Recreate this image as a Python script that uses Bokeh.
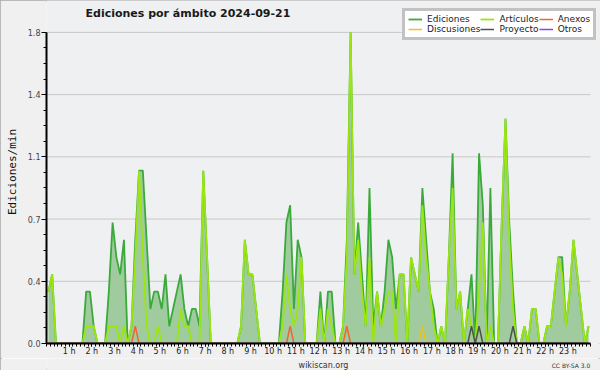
from bokeh.plotting import figure
from bokeh.layouts import column
from bokeh.models import (ColumnDataSource, Range1d, FixedTicker, Legend, LegendItem,
                          Label, PrintfTickFormatter)
from bokeh.embed import file_html
from bokeh.resources import INLINE

# ---- data: edits per minute, 10-minute bins over 2024-09-21 ----
ediciones = [0.3, 0.4, 0, 0, 0, 0, 0, 0, 0, 0, 0.3, 0.3, 0.1, 0, 0, 0, 0.3, 0.7, 0.5, 0.4,
             0.6, 0, 0.1, 0.6, 1.0, 1.0, 0.6, 0.2, 0.3, 0.3, 0.2, 0.4, 0.1, 0.2, 0.3, 0.4, 0.2, 0.1, 0.2, 0.2,
             0.1, 1.0, 0.5, 0, 0, 0, 0, 0, 0, 0, 0, 0.1, 0.6, 0.4, 0.4, 0.2, 0, 0, 0, 0,
             0, 0, 0.3, 0.7, 0.8, 0.2, 0.6, 0.5, 0, 0, 0, 0, 0.3, 0, 0.3, 0.3, 0, 0, 0.1, 0.6,
             1.8, 0.4, 0.7, 0.4, 0.1, 0.9, 0.1, 0.3, 0.1, 0.3, 0.6, 0.5, 0.2, 0.4, 0.4, 0, 0.5, 0.4, 0.3, 0.9,
             0.6, 0.3, 0.2, 0, 0.1, 0, 0.5, 1.1, 0.2, 0.3, 0, 0.2, 0.4, 0, 1.1, 0.8, 0, 0.9, 0, 0,
             0.7, 1.3, 0.7, 0.3, 0, 0, 0.1, 0, 0.2, 0.2, 0, 0, 0.1, 0.1, 0.3, 0.5, 0.5, 0.1, 0.3, 0.6,
             0.4, 0.2, 0, 0.1]
articulos = [0.3, 0.4, 0, 0, 0, 0, 0, 0, 0, 0, 0.1, 0.1, 0.1, 0, 0, 0, 0.1, 0.1, 0.1, 0,
             0.1, 0, 0.1, 0.5, 1.0, 0.5, 0.1, 0, 0, 0.1, 0, 0, 0, 0, 0, 0.2, 0.1, 0.1, 0, 0,
             0, 1.0, 0.5, 0, 0, 0, 0, 0, 0, 0, 0, 0.1, 0.6, 0.4, 0.4, 0.2, 0, 0, 0, 0,
             0, 0, 0.1, 0.4, 0.2, 0.1, 0.2, 0.5, 0, 0, 0, 0, 0.2, 0, 0.2, 0.1, 0, 0, 0.1, 0.5,
             1.8, 0.4, 0.6, 0.3, 0.1, 0.5, 0, 0.3, 0.1, 0.2, 0.3, 0.3, 0, 0.4, 0.4, 0, 0.5, 0.4, 0.3, 0.8,
             0.5, 0.3, 0.1, 0, 0.1, 0, 0.5, 0.9, 0.2, 0.3, 0, 0.2, 0.1, 0, 0.3, 0.7, 0, 0.1, 0, 0,
             0.7, 1.3, 0.6, 0.2, 0, 0, 0.1, 0, 0.2, 0.2, 0, 0, 0.1, 0.1, 0.3, 0.5, 0.4, 0.1, 0.3, 0.6,
             0.4, 0.2, 0, 0.1]
anexos = [0] * 144
discusiones = [0] * 144
proyecto = [0] * 144
otros = [0] * 144
for i in (23, 64, 79):
    anexos[i] = 0.1
discusiones[99] = 0.1
for i in (112, 114, 123):
    proyecto[i] = 0.1

time_h = [(i + 0.5) / 6 for i in range(len(ediciones))]   # bin centres, in hours
hour_ticks = list(range(1, 24))
hour_labels = [f"{h} h" for h in hour_ticks]
minor_x = [k / 6 for k in range(145)]
y_ticks = [0, 0.36, 0.72, 1.08, 1.44, 1.8]
minor_y = [k * 0.09 for k in range(21)]

series_names = ["Ediciones", "Artículos", "Anexos", "Discusiones", "Proyecto", "Otros"]
series_colors = ["#3aaa3a", "#9be610", "#ee6633", "#f0c020", "#505050", "#8844ee"]
series_cols = ["ed", "ar", "an", "di", "pr", "ot"]

# ---- layout (pixels) ----
W, H_MAIN, H_FOOT = 600, 358, 12
LEFT, BOTTOM = 46, 14
FRAME_W, FRAME_H = W - LEFT, H_MAIN - BOTTOM        # 554 x 344
AXIS_W, AXIS_H = 544, 312                           # pixel extent of 0-24 h and 0-1.8
X_END = 24 * FRAME_W / AXIS_W
Y_END = 1.8 * FRAME_H / AXIS_H
BG = "#f0f0f0"

src = ColumnDataSource(dict(t=time_h, ed=ediciones, ar=articulos, an=anexos,
                            di=discusiones, pr=proyecto, ot=otros))

p = figure(width=W, height=H_MAIN, output_backend="svg", toolbar_location=None,
           x_range=Range1d(0, X_END), y_range=Range1d(0, Y_END), title=None,
           min_border_left=LEFT, min_border_right=0, min_border_top=0, min_border_bottom=BOTTOM)
p.background_fill_color = "#eff0f1"
p.border_fill_color = BG
p.outline_line_color = None
p.xgrid.visible = False
p.ygrid.visible = False

# horizontal grid lines limited to the 0-24 h span
p.segment(x0=0, x1=24, y0=y_ticks, y1=y_ticks, line_color="#c8c8c8", line_width=1)

# filled total + lines
p.varea(x="t", y1=0, y2="ed", source=src, fill_color="#9fcb9f", fill_alpha=1)
widths = {"ed": 1.8, "ar": 1.8}
draw_order = ["ed", "ar", "di", "an", "pr", "ot"]
renderers = {}
for col in draw_order:
    k = series_cols.index(col)
    renderers[col] = p.line("t", col, source=src, line_color=series_colors[k],
                            line_width=widths.get(col, 1.5))

# axes
xax = p.xaxis[0]
xax.bounds = (0, 24)
xax.ticker = FixedTicker(ticks=hour_ticks, minor_ticks=minor_x)
xax.major_label_overrides = {h: lab for h, lab in zip(hour_ticks, hour_labels)}
xax.major_tick_out = 3
xax.major_tick_in = 0
xax.minor_tick_out = 3
xax.minor_tick_in = 0
xax.axis_line_width = 2
xax.axis_line_color = "black"
xax.major_tick_line_color = "black"
xax.minor_tick_line_color = "black"
xax.major_label_text_font = "DejaVu Sans"
xax.major_label_text_font_size = "8px"
xax.major_label_text_color = "#222222"
xax.major_label_standoff = 0

yax = p.yaxis[0]
yax.bounds = (0, 1.8)
yax.ticker = FixedTicker(ticks=y_ticks, minor_ticks=minor_y)
yax.formatter = PrintfTickFormatter(format="%.1f")
yax.major_tick_out = 5
yax.major_tick_in = 0
yax.minor_tick_out = 3
yax.minor_tick_in = 0
yax.axis_line_width = 2
yax.axis_line_color = "black"
yax.major_label_text_font = "DejaVu Sans"
yax.major_label_text_font_size = "8px"
yax.major_label_text_color = "#444444"
yax.major_label_standoff = 1
yax.axis_label = "Ediciones/min"
yax.axis_label_text_font = "DejaVu Sans Mono"
yax.axis_label_text_font_size = "11px"
yax.axis_label_text_font_style = "normal"
yax.axis_label_text_color = "#111111"
yax.axis_label_standoff = 6

px_per_h = AXIS_W / 24
px_per_unit = AXIS_H / 1.8

# title (inside the plotting frame, above the 1.8 line)
p.add_layout(Label(x=(85 - LEFT) / px_per_h, y=(344 - 13) / px_per_unit,
                   text="Ediciones por ámbito  2024-09-21", text_font="DejaVu Sans",
                   text_font_size="11px", text_font_style="bold", text_color="#1a1a1a",
                   text_baseline="alphabetic", text_align="left"))

# legend, 3 columns x 2 rows
items = [LegendItem(label=name, renderers=[renderers[col]])
         for name, col in zip(series_names, series_cols)]
legend = Legend(items=items, location=(402 - LEFT, 344 - 41),
                orientation="horizontal", ncols=3,
                label_text_font="DejaVu Sans", label_text_font_size="9px",
                label_text_color="#222222", glyph_width=14, glyph_height=10,
                label_height=10, label_standoff=5, spacing=0, padding=3, margin=0,
                border_line_color="#858585", border_line_width=3,
                background_fill_color="white", background_fill_alpha=1)
p.add_layout(legend, "center")

# footer strip with the credits
f = figure(width=W, height=H_FOOT, output_backend="svg", toolbar_location=None,
           x_range=Range1d(0, W), y_range=Range1d(0, H_FOOT), title=None,
           x_axis_type=None, y_axis_type=None,
           min_border_left=0, min_border_right=0, min_border_top=0, min_border_bottom=0)
f.background_fill_color = BG
f.border_fill_color = BG
f.outline_line_color = None
f.grid.visible = False
f.add_layout(Label(x=300, y=5, text="wikiscan.org", text_font="DejaVu Sans",
                   text_font_size="8px", text_color="#333333", text_align="center",
                   text_baseline="alphabetic"))
f.add_layout(Label(x=589, y=5, text="CC BY-SA 3.0", text_font="DejaVu Sans",
                   text_font_size="6px", text_color="#333333", text_align="right",
                   text_baseline="alphabetic"))

layout = column(p, f, spacing=0,
                styles={"outline": "2px solid #a8a8a8", "outline-offset": "-2px"})
open("out.html", "w").write(file_html(layout, INLINE))
